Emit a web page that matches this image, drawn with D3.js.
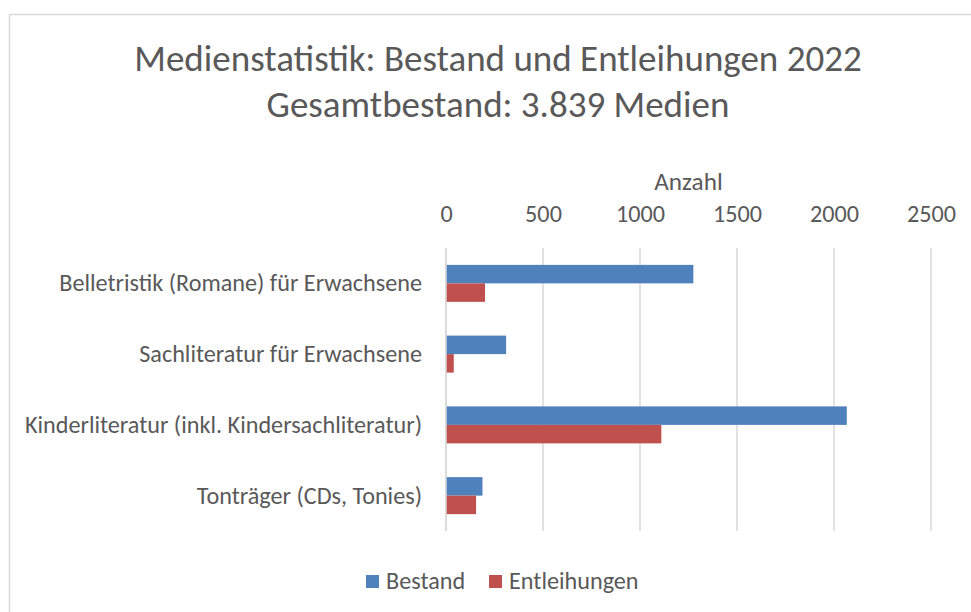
<!DOCTYPE html>
<html>
<head>
<meta charset="utf-8">
<script src="https://cdn.jsdelivr.net/npm/d3@7"></script>
<style>
  body { margin: 0; background: #fff; }
  svg { display: block; font-family: Carlito, Lato, "Open Sans", sans-serif; }
</style>
</head>
<body>
<svg width="971" height="612"></svg>
<script>
// chart data
const categories = [
    'Belletristik (Romane) für Erwachsene',
    'Sachliteratur für Erwachsene',
    'Kinderliteratur (inkl. Kindersachliteratur)',
    'Tonträger (CDs, Tonies)'
]
const bestand = [1275, 310, 2066, 188]
const entleihungen = [201, 40, 1110, 155]
const seriesNames = ['Bestand', 'Entleihungen']
const xTicks = [0, 500, 1000, 1500, 2000, 2500]
const titleLines = ['Medienstatistik: Bestand und Entleihungen 2022', 'Gesamtbestand: 3.839 Medien']
const axisTitle = 'Anzahl'

document.addEventListener('DOMContentLoaded', () => {
    const svg = d3.select('svg')
    const textColor = '#595959'
    const colors = ['#4F81BD', '#C0504D']
    const margin = {top: 248, left: 446}
    const fs = 24.2

    // outer frame
    svg.append('rect')
        .attr('x', 9.5).attr('y', 14.5)
        .attr('width', 980).attr('height', 620)
        .attr('fill', 'none')
        .attr('stroke', '#d9d9d9')
        .attr('stroke-width', 1.5)

    svg.selectAll('text.title').data(titleLines)
        .enter().append('text')
            .attr('class', 'title')
            .attr('x', 498)
            .attr('y', (d, i) => 71 + i * 46)
            .attr('text-anchor', 'middle')
            .attr('font-size', 37)
            .attr('fill', textColor)
            .text(d => d)

    const xScale = d3.scaleLinear()
        .domain([0, 2500])
        .range([0, 485])
    const yScale = d3.scaleBand()
        .domain(categories)
        .range([0, 283])
    const inner = d3.scaleBand()
        .domain(seriesNames)
        .range([-18.5, 18.5])

    const g = svg.append('g')
        .attr('transform', `translate(${margin.left},${margin.top})`)

    // gridlines
    g.selectAll('line.grid').data(xTicks)
        .enter().append('line')
            .attr('x1', d => xScale(d)).attr('x2', d => xScale(d))
            .attr('y1', 0).attr('y2', 283)
            .attr('stroke', '#d9d9d9')
            .attr('stroke-width', 1.5)

    // top axis labels
    const axis = g.append('g')
        .call(d3.axisTop(xScale).tickValues(xTicks).tickFormat(d3.format('d')).tickSize(0).tickPadding(26))
    axis.select('.domain').remove()
    axis.selectAll('text')
        .attr('font-size', fs)
        .attr('font-family', 'Carlito, Lato, "Open Sans", sans-serif')
        .attr('fill', textColor)

    g.append('text')
        .attr('x', xScale(1250))
        .attr('y', -58)
        .attr('text-anchor', 'middle')
        .attr('font-size', fs + 1)
        .attr('fill', textColor)
        .text(axisTitle)

    const rows = categories.map((c, i) => ({cat: c, values: [bestand[i], entleihungen[i]]}))

    const groups = g.selectAll('g.cat').data(rows)
        .enter().append('g')
            .attr('transform', d => `translate(0,${yScale(d.cat) + yScale.bandwidth() / 2})`)

    groups.selectAll('rect').data(d => d.values.map((v, j) => ({name: seriesNames[j], v: v, j: j})))
        .enter().append('rect')
            .attr('x', 0)
            .attr('y', d => inner(d.name))
            .attr('width', d => xScale(d.v))
            .attr('height', inner.bandwidth())
            .attr('fill', d => colors[d.j])

    // category labels
    groups.append('text')
        .attr('x', -24)
        .attr('y', 8)
        .attr('text-anchor', 'end')
        .attr('font-size', fs)
        .attr('fill', textColor)
        .text(d => d.cat)

    // redraw baseline over bars
    g.append('line')
        .attr('x1', 0).attr('x2', 0).attr('y1', 0).attr('y2', 283)
        .attr('stroke', '#d9d9d9').attr('stroke-width', 1.5)

    // legend
    const legendX = [366, 489]
    const legend = svg.selectAll('g.legend').data(seriesNames)
        .enter().append('g')
            .attr('transform', (d, i) => `translate(${legendX[i]},575)`)
    legend.append('rect')
        .attr('width', 13).attr('height', 13)
        .attr('fill', (d, i) => colors[i])
    legend.append('text')
        .attr('x', 20).attr('y', 14)
        .attr('font-size', fs)
        .attr('fill', textColor)
        .text(d => d)
})
</script>
</body>
</html>
